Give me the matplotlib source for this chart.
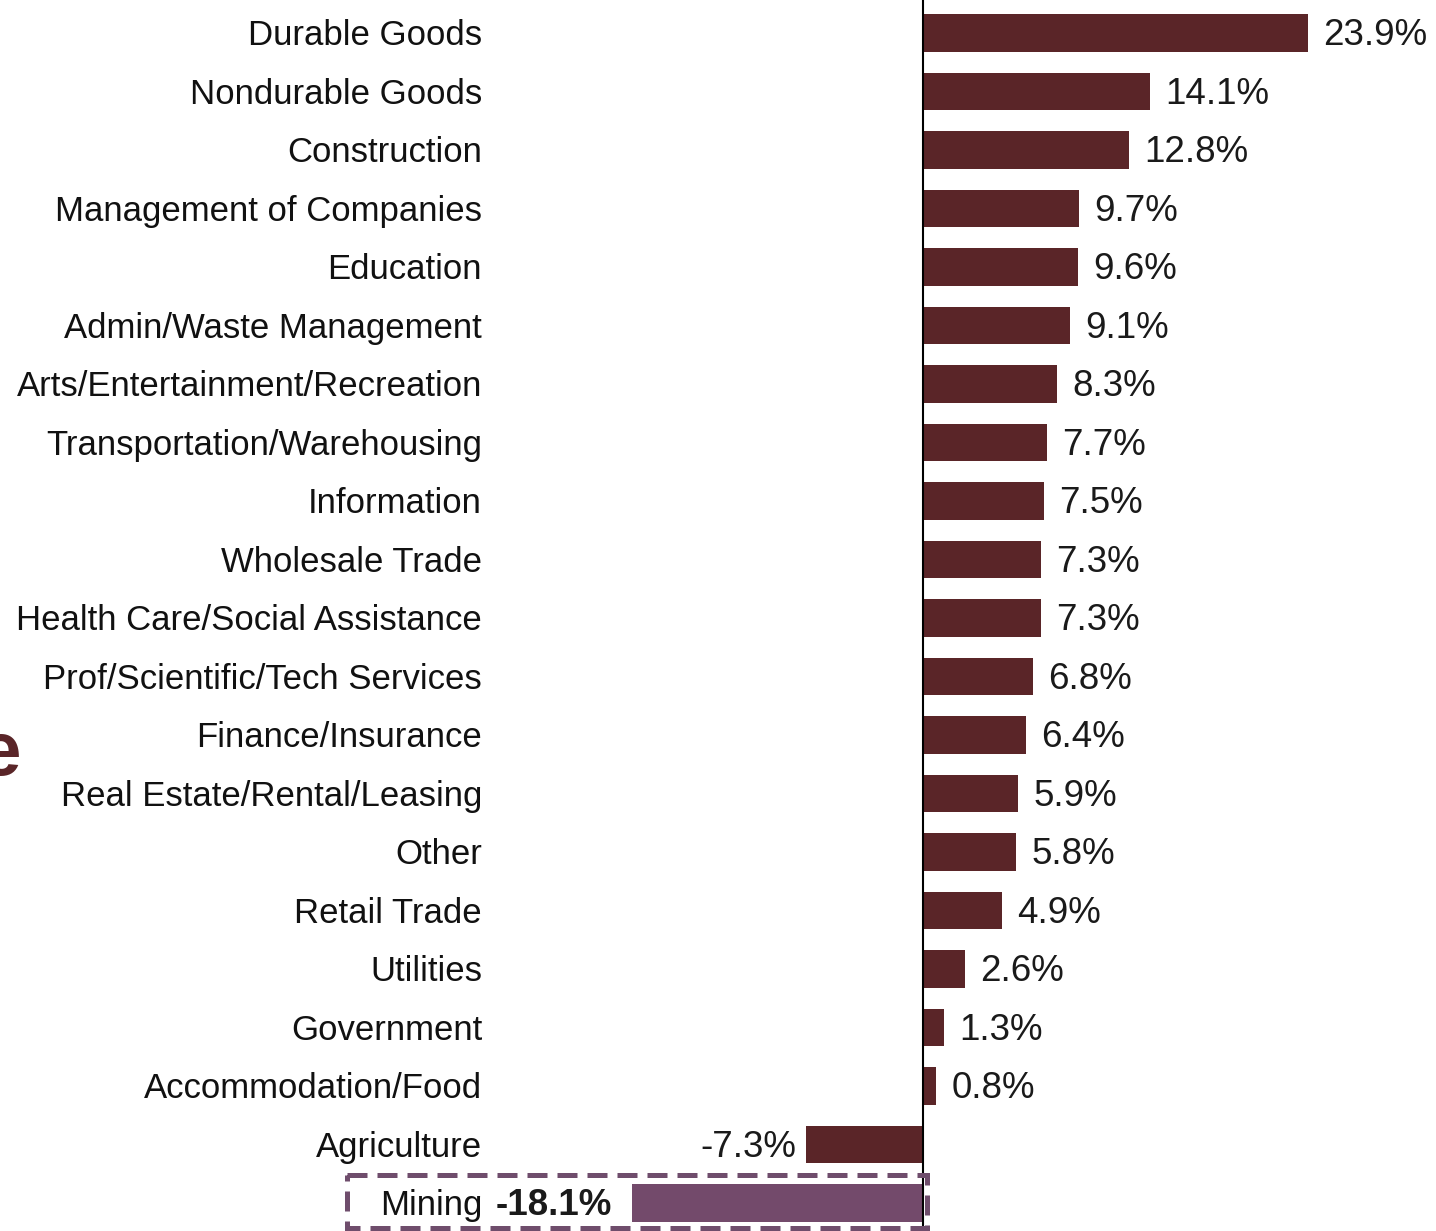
import matplotlib.pyplot as plt
from matplotlib.patches import Rectangle

# data
industries = ['Durable Goods', 'Nondurable Goods', 'Construction', 'Management of Companies',
              'Education', 'Admin/Waste Management', 'Arts/Entertainment/Recreation',
              'Transportation/Warehousing', 'Information', 'Wholesale Trade',
              'Health Care/Social Assistance', 'Prof/Scientific/Tech Services',
              'Finance/Insurance', 'Real Estate/Rental/Leasing', 'Other', 'Retail Trade',
              'Utilities', 'Government', 'Accommodation/Food', 'Agriculture', 'Mining']
growth = [23.9, 14.1, 12.8, 9.7, 9.6, 9.1, 8.3, 7.7, 7.5, 7.3, 7.3, 6.8, 6.4, 5.9, 5.8,
          4.9, 2.6, 1.3, 0.8, -7.3, -18.1]
highlight = 'Mining'

maroon = '#5a2528'
purple = '#734a6b'
font = ['Liberation Sans', 'DejaVu Sans']

fig = plt.figure(figsize=(14.36, 12.31), dpi=100)
ax = fig.add_axes([0, 0, 1, 1])
ax.axis('off')

ypos = list(range(len(industries)))
colors = [purple if n == highlight else maroon for n in industries]
ax.barh(ypos, growth, height=0.64, color=colors, zorder=2)

ax.set_xlim(-57.33, 31.86)
ax.set_ylim(20.479, -0.564)

# zero line
ax.plot([0, 0], [-0.6, 20.38], color='black', lw=1.5, zorder=3)

for y, name, v in zip(ypos, industries, growth):
    ty = y + 0.05
    ax.text(-27.39, ty, name, ha='right', va='center', fontsize=25, family=font,
            color='#111111')
    bold = name == highlight
    if v >= 0:
        ax.annotate(f'{v:.1f}%', (v, ty), xytext=(11, 0), textcoords='offset points',
                    ha='left', va='center', fontsize=26.5, family=font, color='#1a1a1a')
    else:
        off = -14 if bold else -7
        ax.annotate(f'{v:.1f}%', (v, ty), xytext=(off, 0), textcoords='offset points',
                    ha='right', va='center', fontsize=26.5, family=font, color='#1a1a1a',
                    weight='bold' if bold else 'normal')

# dashed highlight box around Mining
box = Rectangle((-35.78, 19.52), 36.03, 0.91, fill=False, edgecolor='#6f4d6c',
                lw=3.6, linestyle=(0, (4, 2)), zorder=4, clip_on=False)
ax.add_patch(box)

# title letter clipped at the left edge, as in the source slide
fig.text(21 / 1436, 1 - 755 / 1231, 'e', ha='right', va='center', fontsize=55,
         weight='bold', color=maroon, family=font)

fig.savefig('out.png', dpi=100)
